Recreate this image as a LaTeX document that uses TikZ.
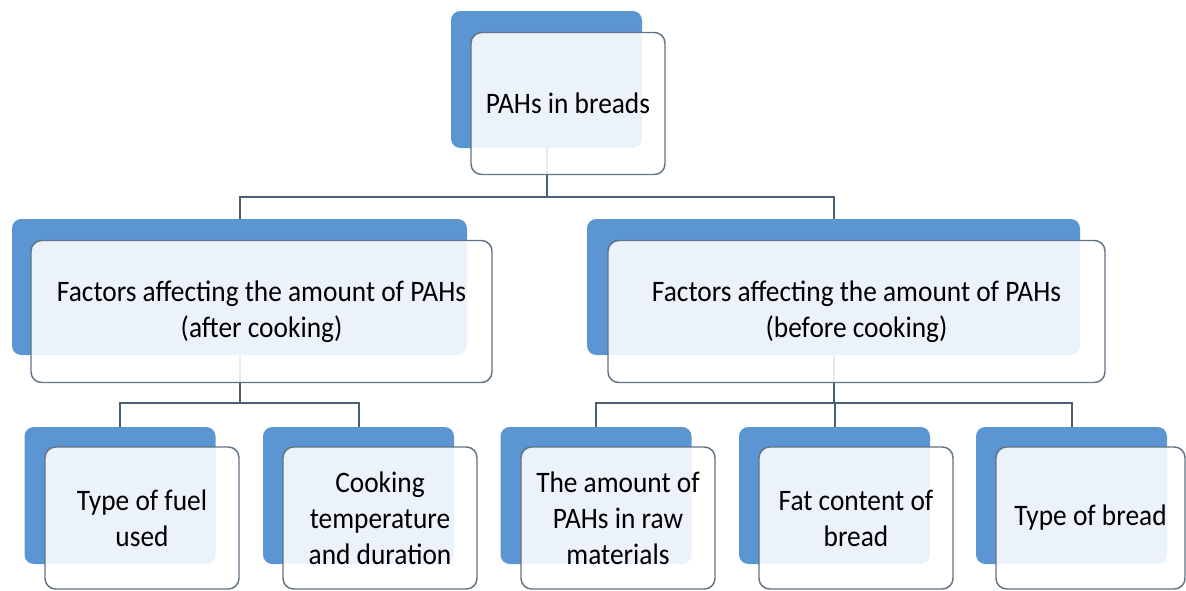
\documentclass[tikz,border=0pt]{standalone}
\usepackage{fontspec}
\setmainfont{Carlito}[FakeStretch=0.92]
\usepackage{tikz}

\definecolor{boxblue}{RGB}{91,150,210}
\definecolor{edgegray}{RGB}{96,114,132}
\definecolor{linkgray}{RGB}{74,94,116}

\tikzset{
  backbox/.style={fill=boxblue, rounded corners=7pt, inner sep=0pt, minimum width=143.25pt, minimum height=102.75pt},
  frontbox/.style={draw=edgegray, line width=1.1pt, fill=white, fill opacity=0.88, text opacity=1, rounded corners=8pt, inner sep=0pt, align=center, minimum width=145.5pt, minimum height=106.5pt, font=\fontsize{22.3}{27}\selectfont},
  link/.style={draw=linkgray, line width=1.5pt}
}

\begin{document}
\begin{tikzpicture}[x=0.75pt,y=0.75pt,yscale=-1,xscale=1]
\useasboundingbox (0,0) rectangle (1186,590);

%Back boxes
\node [backbox] (topback) at (546.5,79.5) {};
\node [backbox, minimum width=341.25pt, minimum height=102pt] (afterback) at (239.5,287) {};
\node [backbox, minimum width=369.75pt, minimum height=102pt] (beforeback) at (833.5,287) {};
\node [backbox] (fuelback) at (120,495.5) {};
\node [backbox] (tempback) at (358.5,495.5) {};
\node [backbox] (rawback) at (596,495.5) {};
\node [backbox] (fatback) at (834.5,495.5) {};
\node [backbox] (typeback) at (1071.5,495.5) {};

%Connectors
\draw [link] (topback.south) -- ++(0,49) -| (afterback.north);
\draw [link] (topback.south) -- ++(0,49) -| (beforeback.north);
\draw [link] (afterback.south) -- ++(0,48) -| (fuelback.north);
\draw [link] (afterback.south) -- ++(0,48) -| (tempback.north);
\draw [link] (beforeback.south) -- ++(0,48) -| (rawback.north);
\draw [link] (beforeback.south) -- ++(0,48) -| (fatback.north);
\draw [link] (beforeback.south) -- ++(0,48) -| (typeback.north);

% Text Node
\node [frontbox] (top) at (568,103.5) {PAHs in breads};
% Text Node
\node [frontbox, minimum width=345.75pt] (after) at (261.5,311.5) {Factors affecting the amount of PAHs\\(after cooking)};
% Text Node
\node [frontbox, minimum width=372.75pt] (before) at (856.5,311.5) {Factors affecting the amount of PAHs\\(before cooking)};
% Text Node
\node [frontbox] (fuel) at (142,518) {Type of fuel\\used};
% Text Node
\node [frontbox] (temp) at (380,518) {Cooking\\temperature\\and duration};
% Text Node
\node [frontbox] (raw) at (618,518) {The amount of\\PAHs in raw\\materials};
% Text Node
\node [frontbox] (fat) at (856,518) {Fat content of\\bread};
% Text Node
\node [frontbox, minimum width=141.75pt] (type) at (1090.5,518) {Type of bread};

\end{tikzpicture}
\end{document}
